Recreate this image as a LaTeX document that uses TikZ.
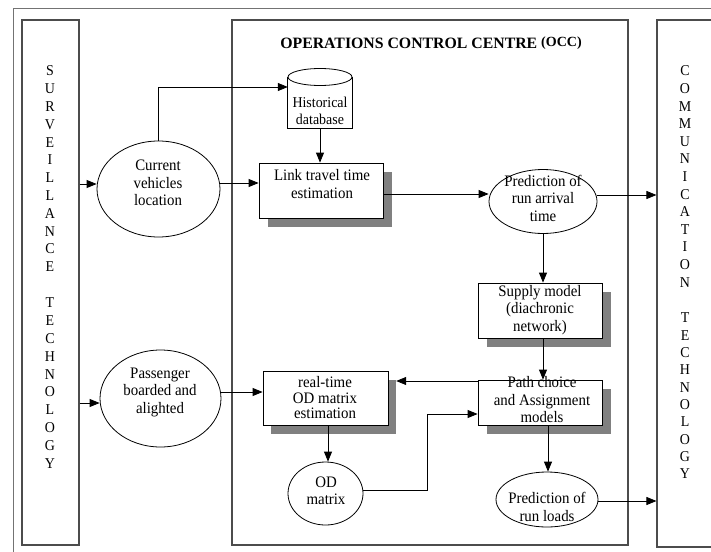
\documentclass[tikz,border=0pt]{standalone}
\usepackage{fontspec}
\setmainfont[FakeStretch=0.93]{Liberation Serif}
\newfontfamily\titlefont{Liberation Serif}
\usetikzlibrary{arrows.meta,shapes.geometric}
\begin{document}
\begin{tikzpicture}[x=1pt,y=-1pt,
  frame/.style={draw=black!70,line width=1.1pt,rectangle,inner sep=0pt},
  procbox/.style={draw=black,fill=white,line width=0.8pt,rectangle,inner sep=0pt},
  shadowbox/.style={fill=black!50,draw=none,rectangle,inner sep=0pt},
  oval/.style={draw=black,fill=white,line width=0.8pt,ellipse,inner sep=0pt},
  lbl/.style={font=\fontsize{16}{17.5}\selectfont,align=center,inner sep=0pt},
  vlet/.style={font=\fontsize{15}{17}\selectfont,inner sep=0pt},
  arr/.style={-{Triangle[length=10pt,width=8pt]},line width=0.8pt}
]
\useasboundingbox (0,0) rectangle (711,551);
\clip (0,0) rectangle (711,551);
\fill[white] (0,0) rectangle (711,551);
% outer frame
\draw[draw=black!55,line width=1pt] (13,570) -- (13,9) -- (730,9);
% column frames
\node[frame,minimum width=57,minimum height=525] (surv) at (50.5,282.5) {};
\node[frame,minimum width=396,minimum height=525] (occ) at (430,282.5) {};
\node[frame,minimum width=70,minimum height=527] (comm) at (692,283.5) {};
% vertical letters
\foreach \l [count=\i] in {S,U,R,V,E,I,L,L,A,N,C,E}
  \node[vlet] (sv\i) at (50,{71+(\i-1)*17.8}) {\l};
\foreach \l [count=\i] in {T,E,C,H,N,O,L,O,G,Y}
  \node[vlet] (st\i) at (50,{303+(\i-1)*17.8}) {\l};
\foreach \l [count=\i] in {C,O,M,M,U,N,I,C,A,T,I,O,N}
  \node[vlet] (cv\i) at (685,{71+(\i-1)*17.6}) {\l};
\foreach \l [count=\i] in {T,E,C,H,N,O,L,O,G,Y}
  \node[vlet] (ct\i) at (685,{318+(\i-1)*17.3}) {\l};
% title
\node[font=\titlefont\fontsize{15.8}{18}\selectfont\bfseries,inner sep=0pt] (title) at (431,43)
  {OPERATIONS CONTROL CENTRE \raisebox{2pt}{\fontsize{14}{16}\selectfont(OCC)}};
% shadows
\node[shadowbox,minimum width=124,minimum height=55] (linksh) at (330,199.5) {};
\node[shadowbox,minimum width=124,minimum height=55] (supplysh) at (549,319.5) {};
\node[shadowbox,minimum width=124,minimum height=45] (pathsh) at (549,411.5) {};
\node[shadowbox,minimum width=125,minimum height=54] (rtsh) at (333.5,407) {};
% boxes
\node[procbox,minimum width=124,minimum height=55] (link) at (321,190.5) {};
\node[procbox,minimum width=124,minimum height=55] (supply) at (540,310.5) {};
\node[procbox,minimum width=124,minimum height=45] (path) at (540,402.5) {};
\node[procbox,minimum width=125,minimum height=54] (rt) at (325.5,398) {};
% cylinder
\node[minimum width=64,minimum height=60,inner sep=0pt] (hist) at (320,98) {};
\filldraw[fill=white,draw=black,line width=0.8pt] (hist.west |- 0,77) -- (hist.south west) -- (hist.south east) -- (hist.east |- 0,77);
\filldraw[fill=white,draw=black,line width=0.8pt] (320,77) ellipse [x radius=32,y radius=8.5];
% ellipses
\node[oval,minimum width=123,minimum height=96] (cur) at (158.5,189) {};
\node[oval,minimum width=121,minimum height=97] (pass) at (160.5,398.5) {};
\node[oval,minimum width=108,minimum height=64] (arrt) at (543,201.5) {};
\node[oval,minimum width=75,minimum height=63] (od) at (325.5,493.5) {};
\node[oval,minimum width=102,minimum height=55] (loads) at (547,499.5) {};
% texts
\node[lbl] (tcur) at (158,183) {Current\\vehicles\\location};
\node[lbl] (tpass) at (160,392) {Passenger\\boarded and\\alighted};
\node[lbl,font=\fontsize{15}{17}\selectfont] (thist) at (320,111) {Historical\\database};
\node[lbl] (tlink) at (322,184) {Link travel time\\estimation};
\node[lbl] (tarrt) at (543,198) {Prediction of\\run arrival\\time};
\node[lbl] (tsupply) at (540,310) {Supply model\\(diachronic\\network)};
\node[lbl] (tpath) at (542,400) {Path choice\\and Assignment\\models};
\node[lbl,font=\fontsize{16}{15.5}\selectfont] (trt) at (325,398) {real-time\\OD matrix\\estimation};
\node[lbl] (tod) at (326,491) {OD\\matrix};
\node[lbl] (tloads) at (547,507) {Prediction of\\run loads};
% connectors
\coordinate (bend) at (427,414);
\draw[arr] (surv.east |- 0,184) -- (cur.west |- 0,184);
\draw[arr] (cur.north) |- (hist.west |- 0,87);
\draw[arr] (hist.south) -- (hist.south |- link.north);
\draw[arr] (cur.east |- 0,183) -- (link.west |- 0,183);
\draw[arr] (link.east |- 0,194) -- (arrt.west |- 0,194);
\draw[arr] (arrt.east |- 0,195) -- (comm.west |- 0,195);
\draw[arr] (arrt.south) -- (arrt.south |- supply.north);
\draw[arr] (supply.south -| 543,0) -- (path.north -| 543,0);
\draw[arr] (path.west |- 0,381) -- (rtsh.east |- 0,381);
\draw[arr] (pass.east |- 0,392) -- (rt.west |- 0,392);
\draw[arr] (surv.east |- 0,403) -- (pass.west |- 0,403);
\draw[arr] (rt.south -| 328,0) -- (od.north -| 328,0);
\draw[arr] (od.east |- 0,490) -| (bend) -- (path.west |- bend);
\draw[arr] (path.south -| 548,0) -- (loads.north -| 548,0);
\draw[arr] (loads.east |- 0,501) -- (comm.west |- 0,501);
\end{tikzpicture}
\end{document}
